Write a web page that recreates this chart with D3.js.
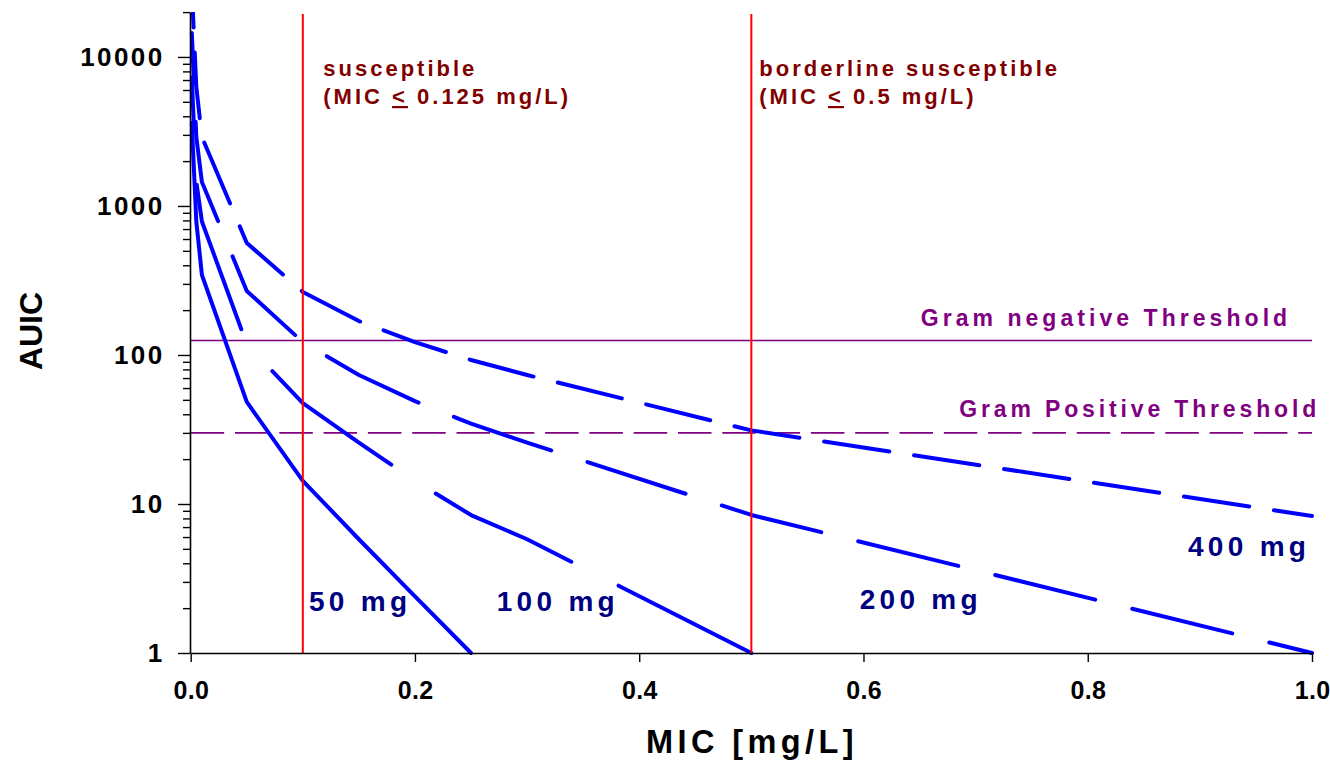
<!DOCTYPE html>
<html>
<head>
<meta charset="utf-8">
<script src="https://cdn.jsdelivr.net/npm/d3@7"></script>
<style>
  body { margin: 0; background: #ffffff; }
  svg text { font-family: "Liberation Sans", Arial, Helvetica, sans-serif; font-weight: bold; }
</style>
</head>
<body>
<svg id="chart" width="1330" height="760"></svg>
<script>
// ---- data ----------------------------------------------------------------
const micValues = [0.001, 0.005, 0.01, 0.05, 0.1, 0.15, 0.2, 0.25, 0.3, 0.5, 1.0];
const auic50  = [3600, 787, 344, 48.4, 14.3, 5.8, 2.4, 1.0];
const auic100 = [7250, 1450, 787, 118, 47.5, 25.8, 14.3, 8.43, 5.8, 1.0];
const auic200 = [14500, 2900, 1450, 269, 122, 73.4, 49, 34.6, 25.8, 8.44, 1.0];
const auic400 = [29000, 6300, 2900, 565, 265, 169, 122, 92.5, 73.4, 31.2, 8.3];
const doseLabels = ["50 mg", "100 mg", "200 mg", "400 mg"];
const doseLabelAt = [[0.1055, 1.914], [0.2729, 1.914], [0.5966, 1.965], [0.8894, 4.48]];

const xTickValues = [0, 0.2, 0.4, 0.6, 0.8, 1.0];
const yMajorTicks = [1, 10, 100, 1000, 10000];
const yMax = 20000;

const breakpointMic = [0.1, 0.5];
const breakpointText = [
  ["susceptible", "(MIC ", "<", " 0.125 mg/L)"],
  ["borderline susceptible", "(MIC ", "<", " 0.5 mg/L)"]
];
const gramNegative = 125;
const gramPositive = 30;

// ---- layout --------------------------------------------------------------
const W = 1330, H = 760;
const x = d3.scaleLinear().domain([0, 1]).range([190.7, 1312]);
const y = d3.scaleLog().domain([1, yMax]).range([653, 12.1]);
const breakpointTextX = [323.3, 759.3];

const svg = d3.select("#chart");
svg.append("rect").attr("width", W).attr("height", H).attr("fill", "#ffffff");

svg.append("defs").append("clipPath").attr("id", "plotClip")
  .append("rect")
  .attr("x", x(0) - 4).attr("y", y(yMax))
  .attr("width", x(1) - x(0) + 8).attr("height", y(1) - y(yMax) + 4);

// ---- threshold lines -----------------------------------------------------
svg.append("line")
  .attr("x1", x(0)).attr("x2", x(1))
  .attr("y1", y(gramNegative)).attr("y2", y(gramNegative))
  .attr("stroke", "#800080").attr("stroke-width", 1.6);
svg.append("line")
  .attr("x1", x(0)).attr("x2", x(1))
  .attr("y1", y(gramPositive)).attr("y2", y(gramPositive))
  .attr("stroke", "#800080").attr("stroke-width", 1.6)
  .attr("stroke-dasharray", "33.5,10.8");

svg.append("text").attr("x", 920.7).attr("y", 325.7)
  .attr("fill", "#800080").attr("font-size", 23).attr("letter-spacing", 4.05)
  .text("Gram negative Threshold");
svg.append("text").attr("x", 959.3).attr("y", 416.7)
  .attr("fill", "#800080").attr("font-size", 23).attr("letter-spacing", 3.85)
  .text("Gram Positive Threshold");

// ---- dose curves ---------------------------------------------------------
const series = [
  { values: auic50,  dash: null,       offset: 0 },
  { values: auic100, dash: "152,53",   offset: 98 },
  { values: auic200, dash: "103,38.1", offset: 52.3 },
  { values: auic400, dash: "66,25",    offset: 26.6 }
];

const line = d3.line()
  .x(d => x(d.mic))
  .y(d => y(d.auic));

const curves = svg.append("g").attr("clip-path", "url(#plotClip)");
series.forEach(s => {
  const pts = s.values.map((v, i) => ({ mic: micValues[i], auic: v }));
  const p = curves.append("path")
    .attr("d", line(pts))
    .attr("fill", "none")
    .attr("stroke", "#0000ff")
    .attr("stroke-width", 4)
    .attr("stroke-linejoin", "round")
    .attr("stroke-linecap", "round");
  if (s.dash) p.attr("stroke-dasharray", s.dash).attr("stroke-dashoffset", s.offset);
});

doseLabels.forEach((t, i) => {
  svg.append("text")
    .attr("x", x(doseLabelAt[i][0])).attr("y", y(doseLabelAt[i][1]))
    .attr("fill", "#000080").attr("font-size", 28).attr("letter-spacing", 4.3)
    .text(t);
});

// ---- breakpoint lines ----------------------------------------------------
breakpointMic.forEach((m, i) => {
  svg.append("line")
    .attr("x1", x(m)).attr("x2", x(m))
    .attr("y1", y(yMax) + 2).attr("y2", y(1))
    .attr("stroke", "#ff0000").attr("stroke-width", 2);
  const tx = breakpointTextX[i];
  const lines = breakpointText[i];
  svg.append("text").attr("x", tx).attr("y", 76)
    .attr("fill", "#800000").attr("font-size", 22).attr("letter-spacing", 3)
    .text(lines[0]);
  const t2 = svg.append("text").attr("x", tx).attr("y", 104)
    .attr("fill", "#800000").attr("font-size", 22).attr("letter-spacing", 3);
  t2.append("tspan").text(lines[1]);
  t2.append("tspan").style("text-decoration", "underline").text(lines[2]);
  t2.append("tspan").text(lines[3]);
});

// ---- axes ----------------------------------------------------------------
const yAll = [];
for (let e = 0; e <= 4; e++) {
  for (let m = 1; m <= 9; m++) {
    const v = m * Math.pow(10, e);
    if (v <= yMax) yAll.push(v);
  }
}

const yAxis = d3.axisLeft(y)
  .tickValues(yAll)
  .tickSizeInner(7).tickSizeOuter(0).tickPadding(18.5)
  .tickFormat(d => yMajorTicks.includes(d) ? String(d) : "");
const gy = svg.append("g").attr("transform", `translate(${x(0) - 0.7},0)`).call(yAxis);
gy.select(".domain").attr("stroke", "#000").attr("stroke-width", 1.6);
gy.selectAll(".tick line").attr("stroke", "#000").attr("stroke-width", 1.4)
  .attr("x2", d => yMajorTicks.includes(d) ? -12 : -7);
gy.selectAll(".tick text")
  .attr("fill", "#000").attr("font-size", 26).attr("letter-spacing", 2.4)
  .attr("font-family", null);

const xAxis = d3.axisBottom(x)
  .tickValues(xTickValues)
  .tickSizeInner(9).tickSizeOuter(0).tickPadding(19)
  .tickFormat(d3.format(".1f"));
const gx = svg.append("g").attr("transform", `translate(0,${y(1)})`).call(xAxis);
gx.select(".domain").attr("stroke", "#000").attr("stroke-width", 1.6);
gx.selectAll(".tick line").attr("stroke", "#000").attr("stroke-width", 1.4);
gx.selectAll(".tick text")
  .attr("fill", "#000").attr("font-size", 25).attr("letter-spacing", 0.3)
  .attr("dx", 0.15).attr("font-family", null);

// axis titles
svg.append("text")
  .attr("transform", "translate(42,331) rotate(-90)")
  .attr("text-anchor", "middle")
  .attr("fill", "#000").attr("font-size", 32)
  .text("AUIC");
svg.append("text")
  .attr("x", 646).attr("y", 753.3)
  .attr("fill", "#000").attr("font-size", 32.5).attr("letter-spacing", 4.4)
  .text("MIC [mg/L]");
</script>
</body>
</html>
